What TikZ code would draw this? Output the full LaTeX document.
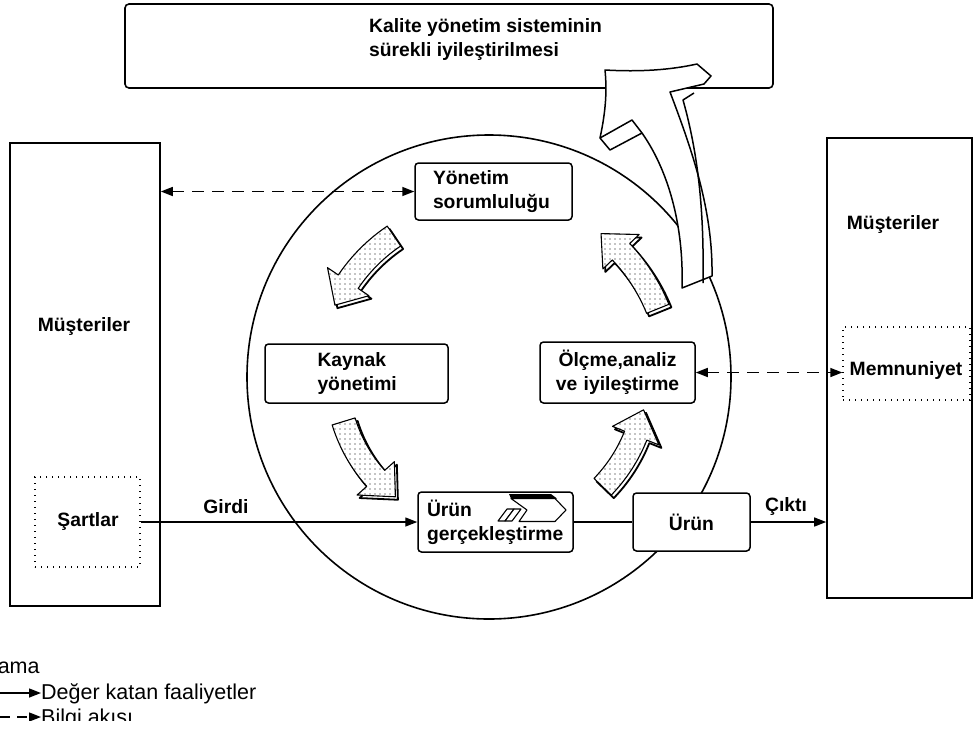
\documentclass[tikz,border=0pt]{standalone}
\usepackage{fontspec}
\setmainfont{Liberation Sans}
\usetikzlibrary{arrows.meta,patterns.meta}

% curved block arrow on a ring: [style]{start angle}{tip angle}{radius}
\newcommand\ringarrow[4][]{%
  \pgfmathsetmacro\rOut{#4+12}%
  \pgfmathsetmacro\rIn{#4-12}%
  \pgfmathsetmacro\rWo{#4+25}%
  \pgfmathsetmacro\rWi{#4-25}%
  \pgfmathsetmacro\aH{#3+27/#4*57.2958}%
  \path[#1] plot[domain=#2:\aH,samples=14] (\x:\rOut) -- (\aH:\rWo) -- (#3:#4)
     -- (\aH:\rWi) -- plot[domain=\aH:#2,samples=14] (\x:\rIn) -- cycle;}

\tikzset{
  frame/.style={draw, line width=1.6pt, inner sep=0pt, fill=white},
  stage/.style={draw, line width=1.5pt, rounded corners=3.5pt, fill=white, inner sep=0pt,
    font=\bfseries\fontsize{19.3}{24}\selectfont},
  lbl/.style={inner sep=0pt, font=\bfseries\fontsize{19.3}{24}\selectfont},
  dotbox/.style={draw, line width=1.4pt, dash pattern=on 1.4pt off 4.6pt, inner sep=0pt},
  flow/.style={line width=1.4pt, -{Triangle[length=12pt,width=9pt]}},
  info/.style={line width=1.5pt, dash pattern=on 12pt off 8pt,
    {Triangle[length=12pt,width=9pt]}-{Triangle[length=12pt,width=9pt]}},
  infoone/.style={line width=1.4pt, dash pattern=on 10pt off 7pt, -{Triangle[length=12pt,width=9pt]}},
  leg/.style={inner sep=0pt, font=\fontsize{21.5}{24}\selectfont},
  shade3d/.style={draw, line width=1.8pt, fill=white, line join=round},
  face3d/.style={draw, line width=1.1pt, line join=round, preaction={fill=white},
    pattern={Dots[distance=5pt, radius=0.65pt]}},
}

\begin{document}
\begin{tikzpicture}[x=1pt, y=-1pt]
\useasboundingbox (0,0) rectangle (975,729);
\clip (0,0) rectangle (975,720);

% continual improvement banner
\node[draw, line width=1.6pt, rounded corners=4pt, minimum width=648pt, minimum height=84pt]
  (top) at (449,46) {};
\node[lbl, anchor=west, align=left] (toptext) at (369,40)
  {Kalite yönetim sisteminin\\ sürekli iyileştirilmesi};

% the process cycle
\node[circle, draw, line width=1.6pt, minimum size=484pt, inner sep=0pt] (cycle) at (489,377) {};

% customers, input side
\node[frame, minimum width=150pt, minimum height=463pt] (lbox) at (85,374.5) {};
\node[lbl] (lcust) at (84,327) {Müşteriler};
\node[dotbox, minimum width=105pt, minimum height=90pt] (req) at (87.5,522) {};
\node[lbl] (reqtext) at (88,522) {Şartlar};

% customers, output side
\node[frame, minimum width=145pt, minimum height=460pt] (rbox) at (899.5,368) {};
\node[lbl] (rcust) at (893,225) {Müşteriler};
\node[dotbox, minimum width=127pt, minimum height=73pt] (sat) at (906.5,363.5) {};
\node[lbl] (sattext) at (906,371) {Memnuniyet};

% processes
\node[stage, minimum width=157pt, minimum height=57pt, text width=121pt, align=left]
  (mgmt) at (493.5,191.5) {Yönetim\\sorumluluğu};
\node[stage, minimum width=183pt, minimum height=59pt, text width=78pt, align=left]
  (res) at (356.5,373.5) {Kaynak\\yönetimi};
\node[stage, minimum width=155pt, minimum height=61pt, text width=140pt, align=center]
  (meas) at (617.5,372.5) {Ölçme,analiz\\ve iyileştirme};
\node[stage, minimum width=155pt, minimum height=60pt, text width=137pt, align=left]
  (real) at (495.5,522) {Ürün\\gerçekleştirme};
\node[stage, minimum width=117pt, minimum height=58pt] (prod) at (691.5,522) {Ürün};

% chevron icon inside the realisation box
\fill (509,494) -- (551,494) -- (557,498.5) -- (511,498.5) -- cycle;
\draw[line width=1.1pt, fill=white, line join=round]
  (511,498.5) -- (555,498.5) -- (566,510) -- (555,521.5) -- (519,521.5) -- (527,510) -- cycle;
\draw[line width=1.1pt, fill=white, line join=round]
  (498,521) -- (507,509) -- (514,509) -- (505,521) -- cycle;
\draw[line width=1.1pt, fill=white, line join=round]
  (505,521) -- (514,509) -- (521,509) -- (512,521) -- cycle;

% value-adding flow
\draw[flow] (req.east) -- (req.east -| real.west);
\node[lbl] (inlbl) at (226,507) {Girdi};
\draw[line width=1.4pt] (real.east) -- (prod.west);
\draw[flow] (prod.east) -- (prod.east -| rbox.west);
\node[lbl] (outlbl) at (786,507) {Çıktı};

% information flow
\draw[info] (lbox.east |- mgmt.west) -- (mgmt.west);
\draw[info] (meas.east) -- (meas.east -| sat.west);

% cycle arrows between the processes
\begin{scope}[shift={(489,377)}]
  \ringarrow[shade3d, shift={(2.5,3)}]{-124}{-155}{170}
  \ringarrow[face3d]{-124}{-155}{170}
  \ringarrow[shade3d, shift={(2.5,3)}]{163}{128}{152}
  \ringarrow[face3d]{163}{128}{152}
  \ringarrow[shade3d, shift={(2.5,3)}]{44}{12}{158}
  \ringarrow[face3d]{44}{12}{158}
  \ringarrow[shade3d, shift={(2.5,3)}]{-22}{-52}{182}
  \ringarrow[face3d]{-22}{-52}{182}
\end{scope}

% large improvement arrow rising into the banner
\draw[line width=1.5pt, fill=white, line join=round]
  (682,288) .. controls (684,225) and (668,170) .. (642,133)
  -- (610,150) -- (600,138)
  .. controls (606,110) and (607,90) .. (605,70)
  .. controls (640,72) and (670,70) .. (697,64)
  -- (711,76) -- (704,84) -- (670,92)
  .. controls (692,150) and (713,210) .. (712,276)
  -- cycle;
\draw[line width=1.5pt, line join=round] (600,138) -- (632,120) -- (642,133);
\draw[line width=1.5pt, line join=round] (694,93) -- (683,100)
  .. controls (700,160) and (704,220) .. (703,283);

% legend
\node[leg, anchor=base west] (legtitle) at (-49,673) {Açıklama};
\coordinate (lega) at (0,693);
\node[leg, anchor=base west] (leg1) at (41,699) {Değer katan faaliyetler};
\draw[flow] (lega) -- (lega -| leg1.west);
\coordinate (legb) at (0,717);
\node[leg, anchor=base west] (leg2) at (41,724) {Bilgi akışı};
\draw[infoone] (legb) -- (legb -| leg2.west);
\end{tikzpicture}
\end{document}
